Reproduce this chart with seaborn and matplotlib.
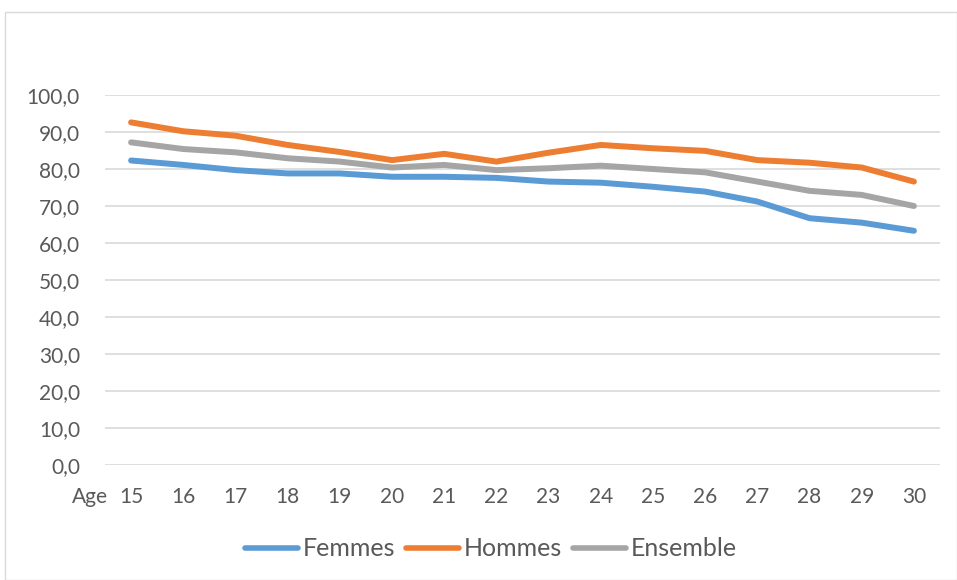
import matplotlib.pyplot as plt
import pandas as pd
import seaborn as sns
from matplotlib.patches import Rectangle

ages = list(range(15, 31))
femmes = [82.3, 81.1, 79.7, 78.8, 78.8, 77.9, 77.9, 77.6,
          76.6, 76.3, 75.2, 73.9, 71.2, 66.7, 65.5, 63.3]
hommes = [92.6, 90.2, 89.0, 86.5, 84.6, 82.4, 84.1, 82.0,
          84.4, 86.5, 85.6, 84.9, 82.4, 81.7, 80.4, 76.6]
ensemble = [87.2, 85.4, 84.5, 82.9, 82.0, 80.4, 81.1, 79.7,
            80.2, 80.9, 80.0, 79.1, 76.6, 74.1, 73.0, 70.0]
series_names = ["Femmes", "Hommes", "Ensemble"]
colors = ["#5B9BD5", "#ED7D31", "#A5A5A5"]


def main():
    sns.set_theme(style="white")
    plt.rcParams['font.family'] = ['Lato', 'DejaVu Sans']

    rows = []
    for name, vals in zip(series_names, [femmes, hommes, ensemble]):
        for i, v in enumerate(vals):
            rows.append({"pos": i, "age": ages[i], "value": v, "serie": name})
    df = pd.DataFrame(rows)

    W, H = 957, 580
    fig = plt.figure(figsize=(W / 100, H / 100), dpi=100)
    ax = fig.add_axes([105 / W, 1 - 465 / H, 835 / W, 370 / H])

    sns.lineplot(data=df, x="pos", y="value", hue="serie",
                 hue_order=series_names, palette=colors,
                 linewidth=4.3, ax=ax, legend=True)
    for line in ax.get_lines():
        line.set_solid_capstyle('round')
        line.set_solid_joinstyle('round')

    ax.set_xlim(-0.5, len(ages) - 0.5)
    ax.set_ylim(0, 100)
    ax.set_yticks(range(0, 101, 10))
    ax.set_yticklabels([f"{v},0" for v in range(0, 101, 10)])
    ax.set_xticks(range(len(ages)))
    ax.set_xticklabels([str(a) for a in ages])
    ax.yaxis.grid(True, color="#D9D9D9", linewidth=1.2)
    ax.set_axisbelow(True)
    for s in ax.spines.values():
        s.set_visible(False)
    ax.tick_params(axis='both', length=0, colors="#595959", labelsize=15)
    ax.tick_params(axis='y', pad=18)
    ax.tick_params(axis='x', pad=16)
    ax.set_xlabel("")
    ax.set_ylabel("")

    fig.text(90 / W, 1 - 495 / H, "Age", ha="center", va="center_baseline",
             color="#595959", fontsize=15)

    handles, labels = ax.get_legend_handles_labels()
    ax.get_legend().remove()
    leg = fig.legend(handles, labels, loc="center", ncol=3,
                     bbox_to_anchor=(491 / W, 1 - 549 / H), frameon=False,
                     fontsize=18, handlelength=2.1, handletextpad=0.2,
                     columnspacing=0.45)
    for t in leg.get_texts():
        t.set_color("#595959")
    for h in leg.get_lines():
        h.set_linewidth(4.0)
        h.set_solid_capstyle('round')

    fig.patches.append(Rectangle((5 / W, 0.5 / H), (W - 5.5) / W, (H - 12.5) / H,
                                 transform=fig.transFigure, fill=False,
                                 edgecolor="#D9D9D9", linewidth=1.0))

    plt.savefig("out.png", dpi=100)
    plt.close()


if __name__ == '__main__':
    main()
